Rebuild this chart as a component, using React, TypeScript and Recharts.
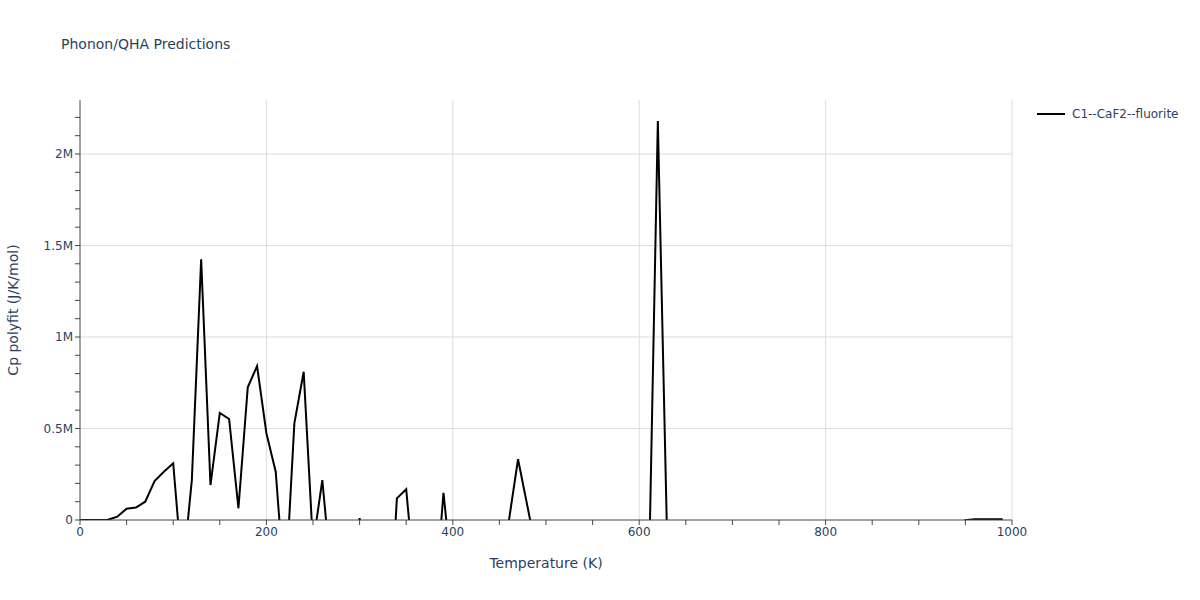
import { LineChart, Line, XAxis, YAxis, CartesianGrid } from 'recharts'

// temperature grid (K)
const temperatures = Array.from({ length: 100 }, (_, i) => i * 10)

// Cp polyfit in MJ/K/mol (negative values fall outside the visible range)
const cpMillions = [
    0, 0, 0, 0.001, 0.018, 0.062, 0.068, 0.1, 0.213, 0.264,
    0.31, -0.3, 0.218, 1.425, 0.191, 0.585, 0.552, 0.064, 0.725, 0.841,
    0.474, 0.264, -0.41, 0.528, 0.81, -0.135, 0.218, -0.33, -0.6, -0.5,
    0.01, -0.5, -0.8, -0.79, 0.118, 0.168, -0.39, -0.6, -0.5, 0.149,
    -0.35, -0.5, -0.7, -0.6, -0.4, -0.2, -0.01, 0.332, 0.077, -0.18,
    -0.6, -0.9, -1.1, -0.8, -0.5, -0.4, -0.7, -1.0, -0.6, -0.3,
    -0.2, -0.415, 2.18, -0.115, -0.4, -0.8, -0.6, -0.3, -0.5, -0.9,
    -1.2, -0.7, -0.4, -0.6, -0.3, -0.2, -0.5, -0.8, -0.6, -0.4,
    -0.3, -0.5, -0.7, -0.4, -0.2, -0.3, -0.5, -0.4, -0.2, -0.1,
    -0.3, -0.2, -0.1, -0.08, -0.05, -0.001, 0.004, 0.004, 0.004, 0.004,
]

const seriesName = 'C1--CaF2--fluorite'

const xTicks = [0, 50, 100, 150, 200, 250, 300, 350, 400, 450, 500, 550, 600, 650, 700, 750, 800, 850, 900, 950, 1000]
const xGrid = [200, 400, 600, 800, 1000]
const yTicks = [0, 1, 2, 3, 4, 5, 6, 7, 8, 9, 10, 11, 12, 13, 14, 15, 16, 17, 18, 19, 20, 21, 22].map((v) => v * 100000)
const yGrid = [500000, 1000000, 1500000, 2000000]

const data = temperatures.map((t, i) => ({ t, cp: cpMillions[i] * 1e6 }))

const FONT = '"DejaVu Sans", Verdana, sans-serif'
const TEXT = '#2a3f5f'

const formatX = (v: number) => (v % 200 === 0 ? String(v) : '')
const formatY = (v: number) => {
    if (v % 500000 !== 0) return ''
    if (v === 0) return '0'
    return `${v / 1e6}M`
}

export default function App() {
    return (
        <div style={{ position: 'absolute', left: 0, top: 0, width: 1200, height: 600, background: '#fff', fontFamily: FONT }}>
            <div style={{ position: 'absolute', left: 61, top: 36, fontSize: 14, color: TEXT }}>Phonon/QHA Predictions</div>
            <div style={{ position: 'absolute', left: 546, top: 563, transform: 'translate(-50%, -50%)', fontSize: 14, color: TEXT, whiteSpace: 'nowrap' }}>
                Temperature (K)
            </div>
            <div style={{ position: 'absolute', left: 13, top: 310, transform: 'translate(-50%, -50%) rotate(-90deg)', fontSize: 14, color: TEXT, whiteSpace: 'nowrap' }}>
                Cp polyfit (J/K/mol)
            </div>
            <div style={{ position: 'absolute', left: 1036, top: 104, display: 'flex', alignItems: 'center', fontSize: 12, color: TEXT, zIndex: 1 }}>
                <svg width={30} height={20}>
                    <line x1={1} y1={10} x2={29} y2={10} stroke="#000" strokeWidth={2} />
                </svg>
                <span style={{ marginLeft: 6 }}>{seriesName}</span>
            </div>
            <LineChart width={1200} height={600} data={data} margin={{ top: 100, right: 188, bottom: 50, left: 0 }}>
                <CartesianGrid stroke="#dddddd" horizontalValues={yGrid} verticalValues={xGrid} />
                <XAxis
                    dataKey="t"
                    type="number"
                    domain={[0, 1000]}
                    ticks={xTicks}
                    interval={0}
                    tickFormatter={formatX}
                    height={30}
                    stroke="#444"
                    tickSize={5}
                    tick={{ fill: TEXT, fontSize: 12, fontFamily: FONT }}
                />
                <YAxis
                    type="number"
                    domain={[0, 2295000]}
                    allowDataOverflow
                    ticks={yTicks}
                    interval={0}
                    tickFormatter={formatY}
                    width={80}
                    stroke="#444"
                    tickSize={5}
                    tick={{ fill: TEXT, fontSize: 12, fontFamily: FONT }}
                />
                <Line
                    type="linear"
                    dataKey="cp"
                    name={seriesName}
                    stroke="#000"
                    strokeWidth={2}
                    dot={false}
                    isAnimationActive={false}
                />
            </LineChart>
        </div>
    )
}
